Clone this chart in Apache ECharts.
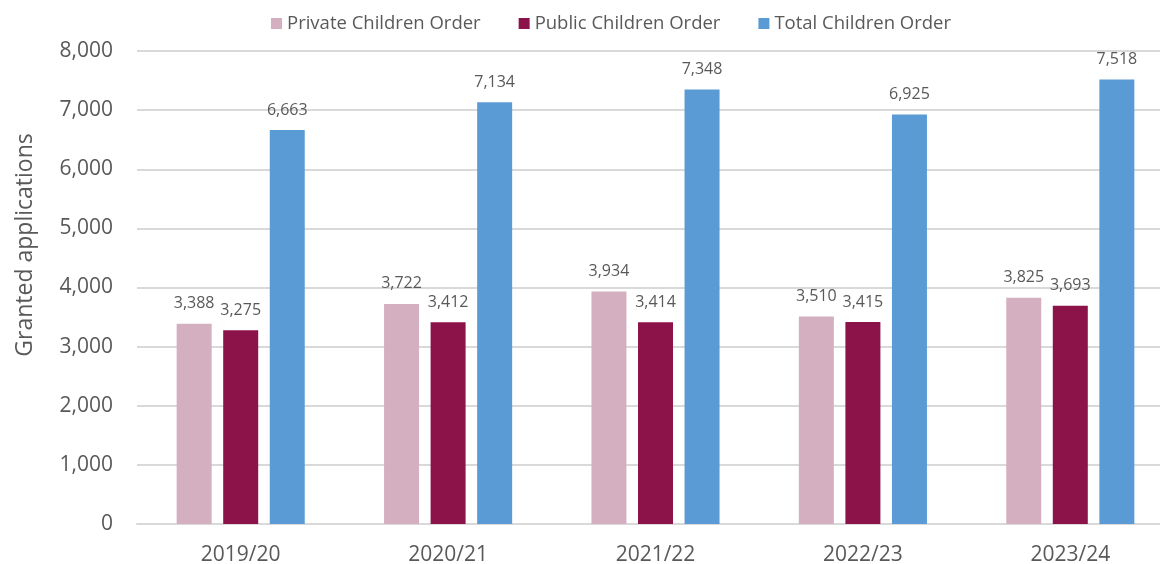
<!DOCTYPE html>
<html><head><meta charset="utf-8">
<script src="https://cdn.jsdelivr.net/npm/echarts@6/dist/echarts.min.js"></script>
<style>html,body{margin:0;padding:0;background:#fff}#c{width:1160px;height:564px}</style>
</head><body><div id="c"></div>
<script>
const categories = ['2019/20','2020/21','2021/22','2022/23','2023/24'];
const privateOrders = [3388, 3722, 3934, 3510, 3825];
const publicOrders = [3275, 3412, 3414, 3415, 3693];
const totalOrders = [6663, 7134, 7348, 6925, 7518];
const yTicks = [0, 1000, 2000, 3000, 4000, 5000, 6000, 7000, 8000];
const yTitle = 'Granted applications';

const FONT = '"Open Sans", "Liberation Sans", sans-serif';
const TXT = '#595959';
const fmt = v => v.toLocaleString('en-US');
const lbl = {show:true, position:'top', distance:12, color:TXT, fontFamily:FONT, fontSize:16, formatter:p=>fmt(p.value)};
const chart = echarts.init(document.getElementById('c'));
chart.setOption({
  animation:false,
  textStyle:{fontFamily:FONT},
  legend:{top:9, left:266, itemWidth:11, itemHeight:11, itemGap:38, icon:'rect',
    textStyle:{color:TXT, fontSize:18.5, fontFamily:FONT}},
  graphic:[{type:'text', x:25, y:245, rotation:Math.PI/2,
    style:{text:yTitle, fill:TXT, font:'23px ' + FONT, align:'center', verticalAlign:'middle'}}],
  grid:{left:137, width:1037, top:51, height:473, containLabel:false, outerBoundsMode:'none'},
  xAxis:{type:'category', data:categories,
    axisLine:{lineStyle:{color:'#d9d9d9', width:2}}, axisTick:{show:false},
    axisLabel:{color:TXT, fontSize:21, fontFamily:FONT, margin:21}},
  yAxis:{type:'value', min:yTicks[0], max:yTicks[yTicks.length-1], interval:1000,
    axisLabel:{color:TXT, fontSize:21, fontFamily:FONT, margin:24, formatter:v=>fmt(v)},
    splitLine:{lineStyle:{color:'#d9d9d9', width:2}}, axisLine:{show:false}, axisTick:{show:false}},
  series:[
    {name:'Private Children Order', type:'bar', data:privateOrders, barWidth:35, barGap:'33%', itemStyle:{color:'#D4AFC0'}, label:lbl},
    {name:'Public Children Order', type:'bar', data:publicOrders, barWidth:35, barGap:'33%', itemStyle:{color:'#8C124A'}, label:lbl},
    {name:'Total Children Order', type:'bar', data:totalOrders, barWidth:35, barGap:'33%', itemStyle:{color:'#5B9BD5'}, label:lbl}
  ]
});
</script></body></html>
